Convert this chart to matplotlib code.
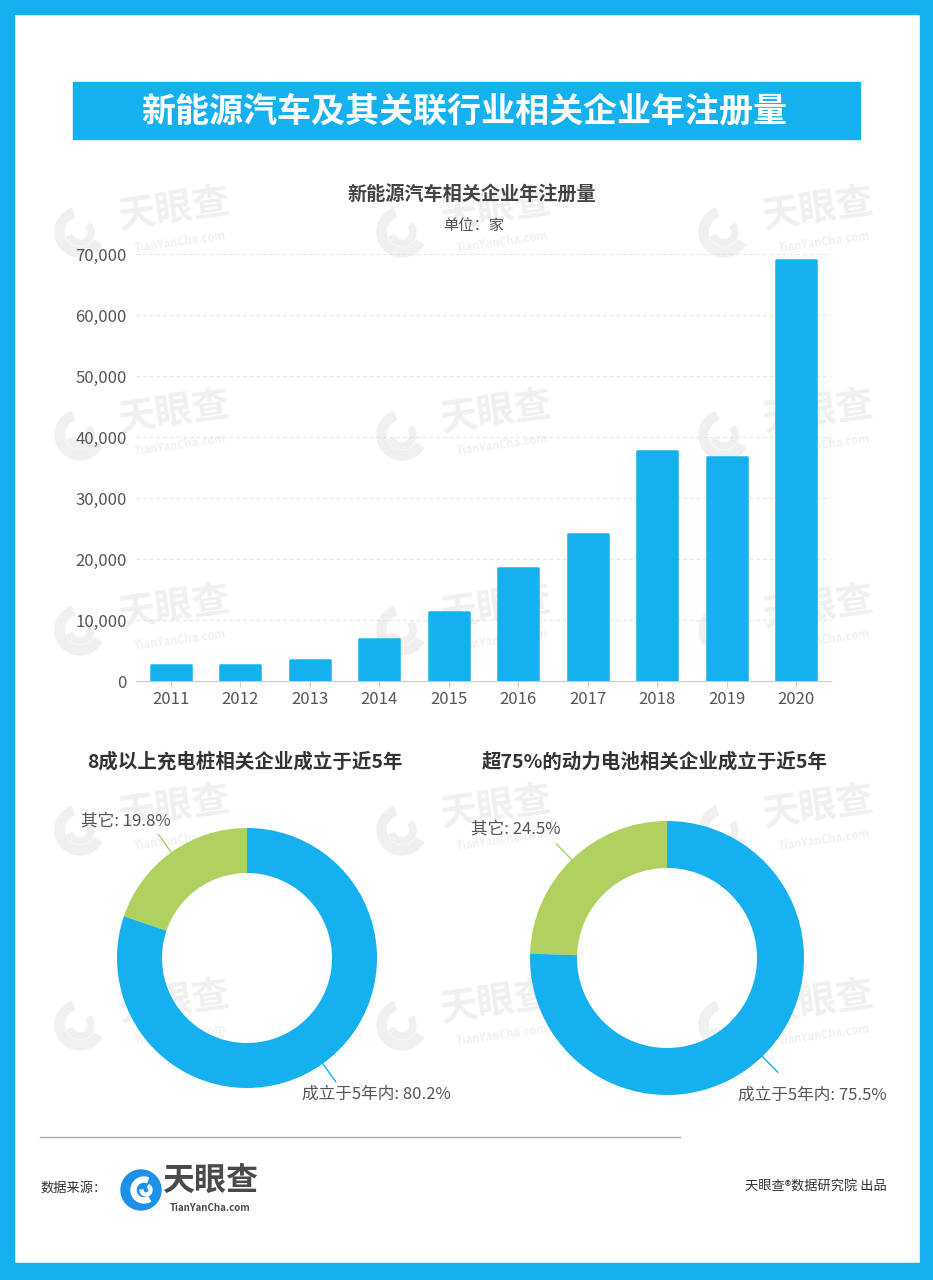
import numpy as np
import matplotlib
matplotlib.use('Agg')
import matplotlib.pyplot as plt
from matplotlib.patches import Rectangle, Circle, Wedge
from matplotlib.lines import Line2D
from matplotlib.ticker import FuncFormatter

plt.rcParams['font.family'] = ['Noto Sans CJK SC', 'DejaVu Sans']

# data
years = ['2011', '2012', '2013', '2014', '2015', '2016', '2017', '2018', '2019', '2020']
registrations = [2600, 2600, 3400, 6900, 11300, 18500, 24100, 37700, 36700, 69000]

pie1_labels = ['其它', '成立于5年内']
pie1_values = [19.8, 80.2]
pie2_labels = ['其它', '成立于5年内']
pie2_values = [24.5, 75.5]

BLUE = '#14B1EE'
GREEN = '#B0D160'
WM = '#f0f0f0'
W, H = 933, 1280


def fx(x):
    return x / W


def fy(y):
    return 1 - y / H


fig = plt.figure(figsize=(W / 100, H / 100), dpi=100)

# blue frame
for (x0, y0, x1, y1) in [(0, 0, W, 14), (0, 0, 14, H), (920, 0, W, H), (0, 1263, W, H)]:
    fig.patches.append(Rectangle((fx(x0), fy(y1)), fx(x1 - x0), (y1 - y0) / H,
                                 transform=fig.transFigure, color=BLUE, zorder=5))


# watermarks (faint logo)
def watermark(x, y):
    # swirl-like icon made of two partial rings, pixel based
    for r, w, a0, a1 in [(25, 9, 110, 330), (14, 6, 200, 40)]:
        wd = Wedge((x, H - y), r, a0, a1, width=w, transform=None, color=WM, zorder=-2)
        fig.patches.append(wd)
    fig.text(fx(x + 95), fy(y - 22), '天眼查', fontsize=27, fontweight='bold', color=WM,
             ha='center', va='center', rotation=8, zorder=-2)
    fig.text(fx(x + 100), fy(y + 10), 'TianYanCha.com', fontsize=8, fontweight='bold',
             color=WM, ha='center', va='center', rotation=8, zorder=-2)


for wy in [232, 435, 630, 830, 1025]:
    for wx in [80, 402, 724]:
        watermark(wx, wy)

# banner
fig.patches.append(Rectangle((fx(73), fy(139)), fx(860 - 73), (139 - 82) / H,
                             transform=fig.transFigure, color=BLUE, zorder=1))
fig.text(fx(464), fy(111), '新能源汽车及其关联行业相关企业年注册量', color='white',
         fontsize=24.5, fontweight='bold', ha='center', va='center', zorder=6)

# bar chart
ax = fig.add_axes([fx(136), fy(681), fx(831 - 136), (681 - 254) / H])
ax.set_facecolor('none')
x = np.arange(len(years))
ax.bar(x, registrations, width=0.57, color=BLUE, edgecolor=BLUE, linewidth=1.8,
       joinstyle='round', zorder=3)
ax.set_xlim(-0.5, len(years) - 0.5)
ax.set_ylim(0, 70000)
ax.set_yticks(np.arange(0, 70001, 10000))
ax.yaxis.set_major_formatter(FuncFormatter(lambda v, p: f'{int(v):,}'))
ax.set_xticks(x)
ax.set_xticklabels(years)
ax.grid(axis='y', linestyle=(0, (3, 3)), color='#e3e3e3', linewidth=0.8, zorder=0)
for s in ['top', 'right', 'left']:
    ax.spines[s].set_visible(False)
ax.spines['bottom'].set_color('#cccccc')
ax.tick_params(axis='y', length=0, pad=6.5, labelsize=12, labelcolor='#555555')
ax.tick_params(axis='x', length=4, color='#cccccc', pad=3, labelsize=12, labelcolor='#555555')

fig.text(fx(472), fy(195), '新能源汽车相关企业年注册量', fontsize=13.8, fontweight='bold',
         color='#444444', ha='center', va='center')
fig.text(fx(474), fy(225), '单位：家', fontsize=11, color='#555555', ha='center', va='center')


# donuts
def donut(cx, cy, r_out, r_in, values, labels, title, title_x, offsets):
    pax = fig.add_axes([fx(cx - 150), fy(cy + 150), 300 / W, 300 / H])
    pax.set_facecolor('none')
    pax.axis('off')
    pax.pie(values, colors=[GREEN, BLUE], startangle=90, counterclock=True,
            radius=r_out / 150, wedgeprops=dict(width=(r_out - r_in) / 150, linewidth=0))
    pax.set_xlim(-1, 1)
    pax.set_ylim(-1, 1)
    start = 90
    for v, lab, col, (ox, oy) in zip(values, labels, [GREEN, BLUE], offsets):
        span = v / 100 * 360
        mid = np.deg2rad(start + span / 2)
        start += span
        r0 = r_out / 150
        r1 = (r_out + 22) / 150
        x0, y0 = r0 * np.cos(mid), r0 * np.sin(mid)
        x1, y1 = r1 * np.cos(mid), r1 * np.sin(mid)
        pax.add_line(Line2D([x0, x1], [y0, y1], color=col, linewidth=1, clip_on=False))
        pax.text(x1 + ox / 150, y1 + oy / 150, f'{lab}: {v}%', fontsize=12, color='#555555',
                 ha='center', va='center', clip_on=False)
    fig.text(fx(title_x), fy(762), title, fontsize=14, fontweight='bold', color='#333333',
             ha='center', va='center')


donut(247, 958, 130, 85, pie1_values, pie1_labels, '8成以上充电桩相关企业成立于近5年', 245,
      [(-33, 14), (41, -13)])
donut(667, 958, 137, 90, pie2_values, pie2_labels, '超75%的动力电池相关企业成立于近5年', 655,
      [(-41, 15), (35, -23)])

# footer
fig.lines.append(Line2D([fx(40), fx(680)], [fy(1137), fy(1137)], transform=fig.transFigure,
                        color='#aaaaaa', linewidth=1))
fig.text(fx(40), fy(1188), '数据来源：', fontsize=9.5, color='#333333', ha='left', va='center')
fig.patches.append(Circle((141, H - 1190), 20, transform=None, color='#1E90E8'))
fig.patches.append(Wedge((144, H - 1190), 13, 70, 300, width=5, transform=None, color='white'))
fig.patches.append(Wedge((146, H - 1190), 6, 180, 60, width=3, transform=None, color='white'))
fig.text(fx(210), fy(1182), '天眼查', fontsize=23, fontweight='bold', color='#4a4a4a',
         ha='center', va='center')
fig.text(fx(210), fy(1208), 'TianYanCha.com', fontsize=7, fontweight='bold', color='#4a4a4a',
         ha='center', va='center')
fig.text(fx(887), fy(1187), '天眼查®数据研究院 出品', fontsize=9.5, color='#333333',
         ha='right', va='center')

fig.savefig('out.png', dpi=100)
